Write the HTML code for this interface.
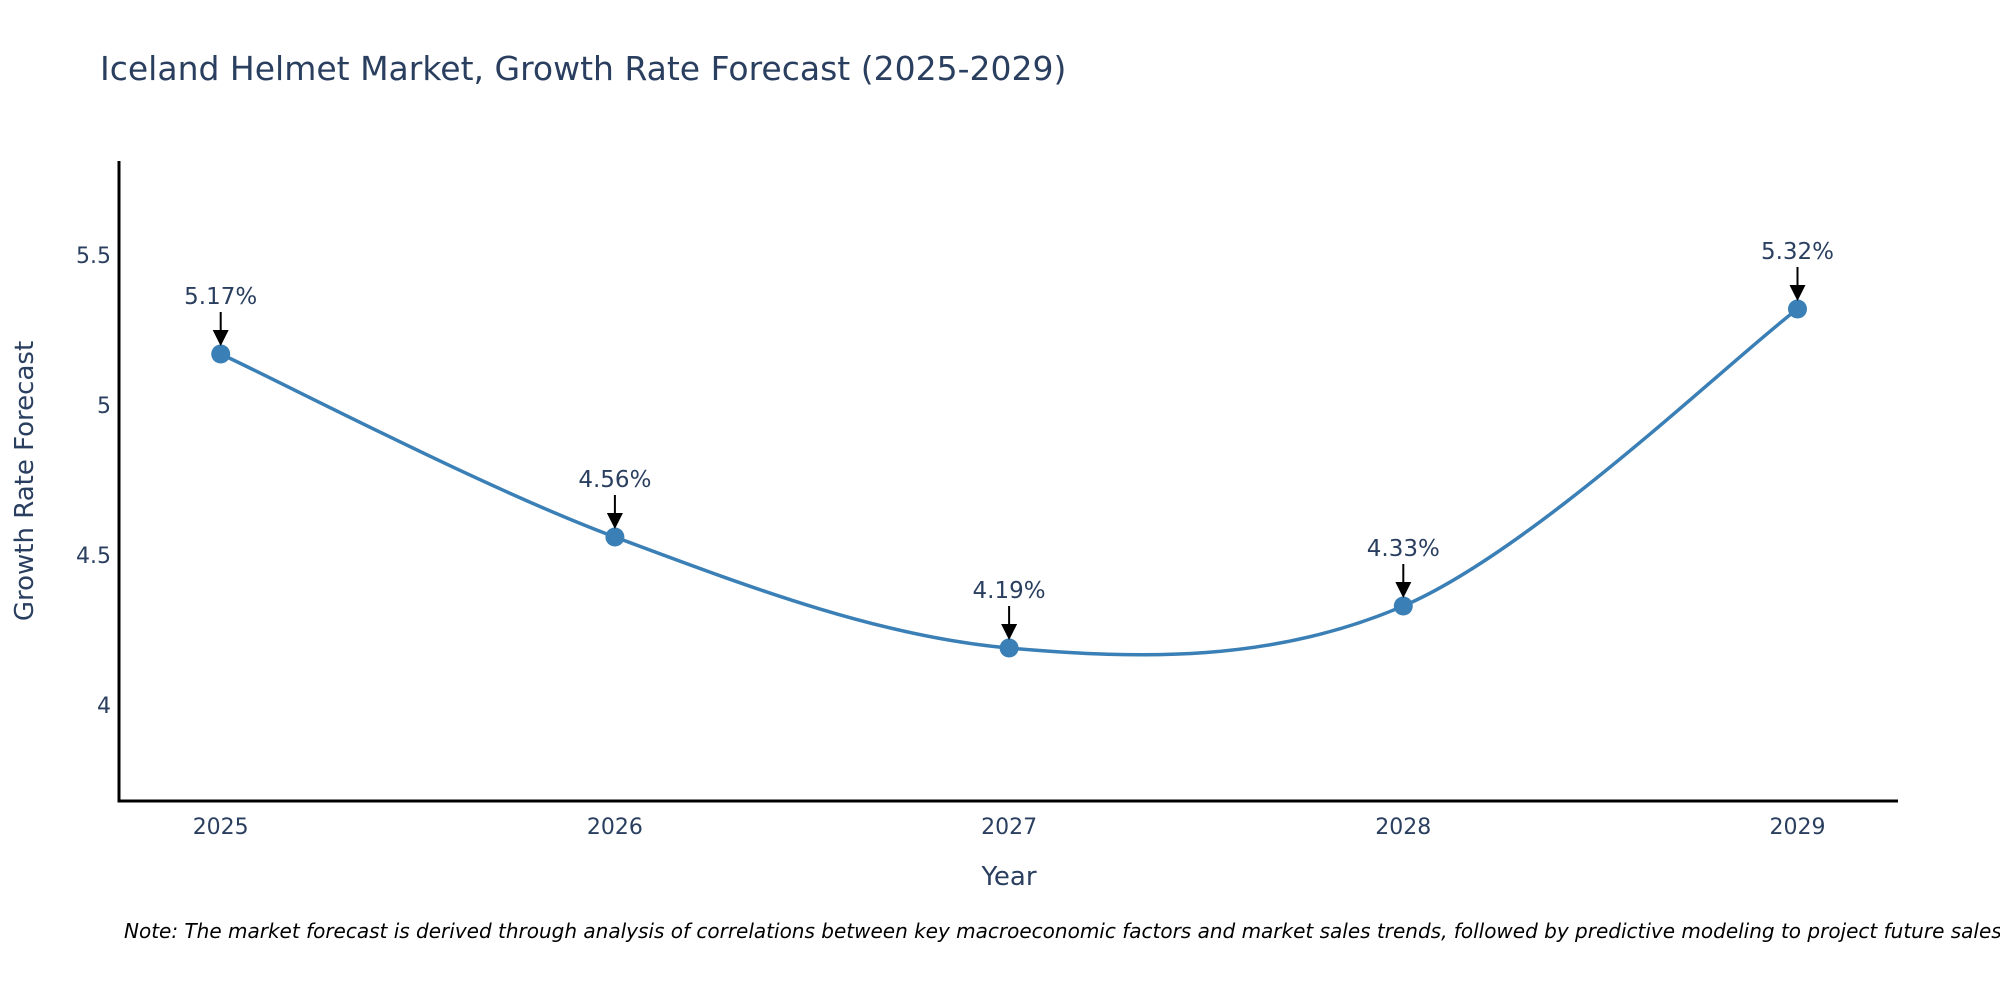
<!DOCTYPE html>
<html><head><meta charset="utf-8"><style>
body{margin:0;background:#fff;}
svg{display:block;font-family:"DejaVu Sans","Liberation Sans",sans-serif;}
</style></head><body>
<svg id="chart" width="2000" height="1000" viewBox="0 0 2000 1000">
<text x="100" y="80" font-size="33" fill="#2a3f5f">Iceland Helmet Market, Growth Rate Forecast (2025-2029)</text>
<g id="yticks"></g>
<g id="xticks"></g>
<line x1="119" y1="161" x2="119" y2="802" stroke="#000" stroke-width="3"/>
<line x1="117.5" y1="801" x2="1898" y2="801" stroke="#000" stroke-width="3"/>
<text transform="translate(33,481) rotate(-90)" text-anchor="middle" font-size="26" fill="#2a3f5f">Growth Rate Forecast</text>
<text x="1009" y="885" text-anchor="middle" font-size="26" fill="#2a3f5f">Year</text>
<path id="line" fill="none" stroke="#3a7fb5" stroke-width="3.5"/>
<g id="points"></g>
<g id="annots"></g>
<defs><marker id="ah" markerWidth="16" markerHeight="16" refX="8" refY="8" orient="auto" markerUnits="userSpaceOnUse"><path d="M0,0 L16,8 L0,16 Z" fill="#000"/></marker></defs>
<text x="124" y="938" font-size="20" font-style="italic" fill="#000">Note: The market forecast is derived through analysis of correlations between key macroeconomic factors and market sales trends, followed by predictive modeling to project future sales.</text>
</svg>
<script>
const years=[2025,2026,2027,2028,2029];
const rates=[5.17,4.56,4.19,4.33,5.32];
const yTickVals=[4,4.5,5,5.5];
const yTickLabels=["4","4.5","5","5.5"];
const NS="http://www.w3.org/2000/svg";
function xs(v){return 220.7+(v-2025)*394.2;}
function ys(v){return 255+(5.5-v)*300;}
function mk(t,a){const e=document.createElementNS(NS,t);for(const k in a)e.setAttribute(k,a[k]);return e;}
const yt=document.getElementById('yticks');
yTickVals.forEach((v,i)=>{const t=mk('text',{x:111,y:ys(v)+8,'text-anchor':'end','font-size':'22',fill:'#2a3f5f'});


t.textContent=yTickLabels[i];yt.appendChild(t);});
const xt=document.getElementById('xticks');
years.forEach(v=>{const t=mk('text',{x:xs(v),y:834,'text-anchor':'middle','font-size':'22',fill:'#2a3f5f'});


t.textContent=String(v);xt.appendChild(t);});
const P=years.map((y,i)=>[xs(y),ys(rates[i])]);
let d='M'+P[0][0]+','+P[0][1];const k=0.5/3*2;
for(let i=0;i<P.length-1;i++){const p0=P[Math.max(0,i-1)],p1=P[i],p2=P[i+1],p3=P[Math.min(P.length-1,i+2)];
const c1=[p1[0]+(p2[0]-p0[0])*k/2,p1[1]+(p2[1]-p0[1])*k/2];
const c2=[p2[0]-(p3[0]-p1[0])*k/2,p2[1]-(p3[1]-p1[1])*k/2];
d+=' C'+c1+' '+c2+' '+p2;}
document.getElementById('line').setAttribute('d',d);
const pts=document.getElementById('points'),an=document.getElementById('annots');
P.forEach((p,i)=>{const c=mk('circle',{cx:p[0],cy:p[1],r:9.5,fill:'#3a7fb5'});


pts.appendChild(c);
const l=mk('line',{x1:p[0],y1:p[1]-42,x2:p[0],y2:p[1]-16,stroke:'#000','stroke-width':'2','marker-end':'url(#ah)'});


an.appendChild(l);
const t=mk('text',{x:p[0],y:p[1]-50,'text-anchor':'middle','font-size':'23',fill:'#2a3f5f'});


t.textContent=rates[i].toFixed(2)+'%';an.appendChild(t);});
</script>
</body></html>
